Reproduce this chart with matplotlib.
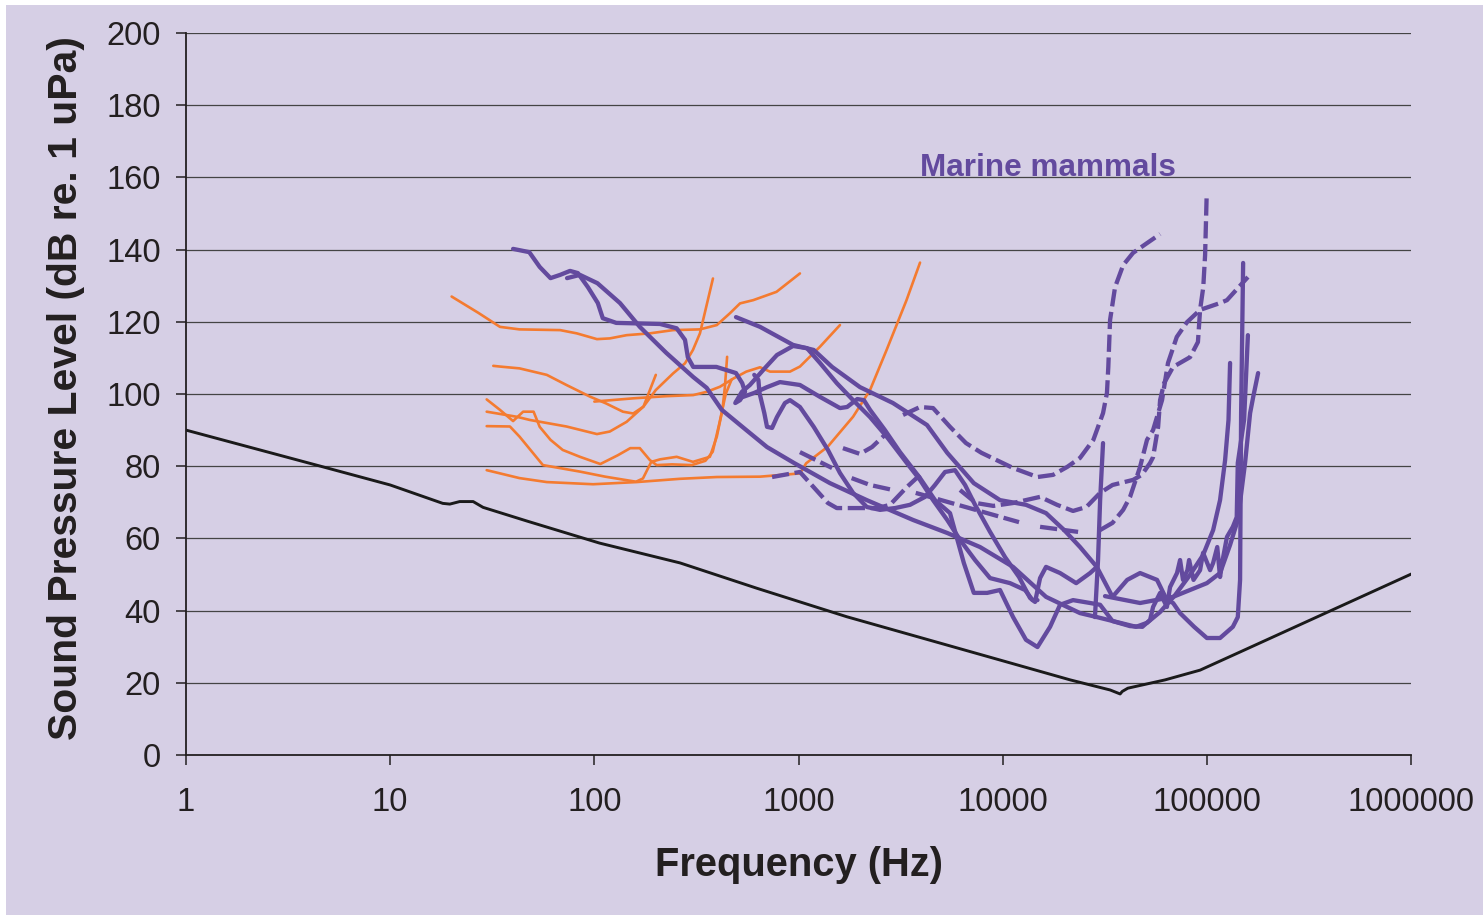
#!/usr/bin/env python
# -*- coding: utf-8 -*-
"""Hearing thresholds of fish and marine mammals against ambient noise."""
import matplotlib
matplotlib.use("Agg")
import matplotlib.pyplot as plt
from matplotlib.patches import Rectangle
from matplotlib.ticker import NullLocator

BG = "#d6cfe5"
PURPLE = "#634a9e"
ORANGE = "#f47b30"

# ambient noise floor (Hz, dB)
noise_f = [1, 4.7, 10, 18.1, 19.6, 21.9, 25.5, 28.5, 46.8, 106, 263, 624, 1722,
           9700, 21400, 33600, 37600, 38500, 41000, 62400, 92600, 145000, 286000, 1000000]
noise_db = [90, 79.8, 74.8, 69.7, 69.5, 70.2, 70.2, 68.6, 64.8, 58.7, 53.2, 46.2, 38.3,
            26.3, 20.8, 18.0, 16.9, 17.6, 18.5, 20.8, 23.5, 28.5, 36.1, 50.1]

# fish audiograms (Hz, dB)
fish = [
    ([20, 27, 34.5, 43, 68, 82, 103, 119, 144, 187, 243, 329, 398, 462, 517, 600, 780, 1016],
     [127, 122.5, 118.6, 117.9, 117.7, 116.8, 115.2, 115.4, 116.3, 116.8, 117.7, 117.9,
      119.1, 122.4, 125.1, 126, 128.3, 133.4]),
    ([32, 34.5, 43, 58.5, 73, 95, 114, 138, 155, 174, 200],
     [107.8, 107.6, 107.1, 105.3, 102.5, 99.3, 97.4, 95.1, 94.6, 96.5, 105.3]),
    ([100, 155, 225, 305, 355, 412, 480, 555, 648, 725, 908, 1016, 1274, 1596],
     [97.9, 98.8, 99.4, 99.7, 100.6, 102, 104.3, 106.2, 107.4, 106.2, 106.2, 107.6, 113.1, 119.1]),
    ([29.7, 34.5, 40, 44.8, 50.4, 54, 61, 70, 85, 107, 130, 150, 167, 187, 202, 240, 300,
      350, 380, 410, 440, 470],
     [98.5, 95.6, 92.5, 95.1, 95.1, 90.9, 87.3, 84.5, 82.6, 80.6, 83, 85, 85, 81.7, 80.3,
      80.5, 80.3, 81.5, 84, 92, 100, 104]),
    ([29.7, 41.6, 48.4, 73, 103, 119, 144, 174, 200, 243, 278, 304, 329, 381],
     [95.1, 93.7, 92.8, 91, 88.9, 89.6, 92.3, 96.5, 101.1, 105.7, 108.5, 112.2, 116.8, 132]),
    ([29.7, 38.6, 43, 56, 85, 113, 160, 173, 190, 210, 253, 304, 368, 398, 424, 436, 447],
     [91.1, 91, 88.2, 80.3, 78.5, 77.1, 75.7, 76.6, 81.2, 81.9, 82.6, 81.2, 82.6, 88.2,
      95.6, 102, 110.3]),
    ([29.7, 43, 58.5, 98.6, 161, 262, 398, 648, 1016, 1090, 1390, 1850, 2240, 2700, 3380, 3937],
     [78.9, 76.7, 75.6, 75, 75.6, 76.5, 77, 77.1, 78, 80.8, 85.4, 93.7, 101.1, 112.2, 126, 136.4]),
]

# marine mammal audiograms, solid (Hz, dB)
mammals = [
    ([40, 48, 54, 61, 68, 76, 83, 93, 104, 110, 128, 210, 253, 278, 287, 305, 396, 494,
      530, 547, 517, 490, 528, 578, 685, 784, 940, 1100, 1274, 1540, 1850, 2240, 2710,
      3390, 3936, 4560, 5350, 6180, 7320, 8670, 10860, 12870, 14000, 14800],
     [140.2, 139.3, 135.2, 132.1, 133, 134.1, 133.5, 129.6, 125.2, 121, 119.7, 119.4,
      118.2, 115, 110.2, 107.5, 107.5, 105.8, 103, 100.6, 98.3, 97.5, 100.6, 102.5,
      107.2, 110.8, 113.3, 112.7, 108.6, 103, 98.3, 93.6, 88.1, 80.9, 76.2, 70.6, 65.1,
      59.6, 54, 49, 47.6, 45.7, 42.9, 42.9]),
    ([73.5, 85, 103.5, 133.5, 167, 225, 305, 355, 421, 555, 701, 950, 1426, 2160, 3640,
      5350, 7744, 11240, 16300, 23920, 28900, 45000, 50900, 59000, 69900, 82700, 95800,
      107300, 116000, 122800, 127600, 129900],
     [132.1, 133, 130.7, 125.2, 118.6, 111.4, 104.7, 101.7, 95.6, 90, 85.3, 80.9, 75.3,
      70.6, 65.1, 61.5, 57.6, 52.1, 43.8, 39.3, 38.2, 35.5, 36.6, 39.6, 44.3, 49.9, 55.4,
      62.3, 70.6, 81.7, 92.8, 108.6]),
    ([517, 607, 701, 811, 1016, 1274, 1596, 1730, 1940, 2090, 2240, 2650, 3140, 3936,
      4660, 5520, 6450, 7220, 8390, 9700, 11240, 13000, 14800, 17060, 19090, 22100,
      26800, 30000, 34500, 42000, 48300, 52700, 54500, 59000, 63700, 66000, 71400,
      73900, 76400, 80300, 81800, 86000, 92600, 95800, 103700, 107300, 112400, 116000,
      118700, 125400, 134000, 140000, 141700, 152100, 158800],
     [98.9, 100.3, 101.9, 103.3, 102.5, 99.2, 96.1, 96.4, 98.6, 98.3, 95.6, 90, 83.9,
      76.7, 70.6, 67, 53.2, 44.9, 44.9, 45.7, 38.2, 31.9, 29.9, 35.5, 41.6, 42.9, 42.1,
      41.6, 37.1, 35.7, 35.5, 37.4, 41, 44.9, 41, 46.5, 50.4, 54, 48.5, 51.2, 54, 48.5,
      51.2, 56, 51.2, 53.2, 57.6, 49.3, 53.2, 60.4, 63.2, 65.9, 80.9, 92.8, 116.3]),
    ([607, 636, 644, 680, 701, 742, 784, 858, 908, 1016, 1187, 1393, 1596, 1850, 2160,
      2507, 2970, 3516, 4164, 4660, 5218, 5840, 6540, 7320, 8670, 10270, 12020, 13610,
      14400, 15240, 16300, 19090, 22900, 26800, 28900],
     [105.3, 103.9, 100.3, 94.7, 90.9, 90.6, 93.6, 97.5, 98.3, 96.4, 90.9, 84.5, 78.1,
      72.6, 68.7, 67.9, 68.4, 69.3, 71.5, 74.8, 78.4, 78.9, 74.8, 69.3, 61.8, 54.8, 49.3,
      43.5, 42.4, 49, 52.1, 50.4, 47.6, 50.4, 52.1]),
    ([494, 648, 940, 1187, 1460, 2000, 2900, 4260, 5350, 7220, 9700, 13000, 16300, 20000,
      23920, 28900, 34500, 40700, 47070, 57000, 63700, 68300, 73900, 86600, 100000,
      116000, 134000, 141700, 145400, 147100, 150500],
     [121.3, 118.6, 113.6, 112.2, 107.5, 101.9, 97.5, 91.4, 83.7, 75.3, 70.6, 69.3, 67,
      62.3, 57.6, 52.1, 43.8, 48.5, 50.4, 48.5, 42.9, 42.1, 39.3, 35.5, 32.4, 32.4, 35.5,
      38.2, 48.5, 94.7, 136.3]),
    ([31700, 47070, 68300, 100000, 116000, 129900, 141700, 153800, 162800, 168600, 178200],
     [44, 42.1, 43.8, 47.6, 50.4, 58.2, 65.1, 80.9, 94.7, 99.2, 105.8]),
    ([31000, 30000, 29300, 28300],
     [86.4, 70.6, 54, 38.2]),
]

# marine mammal audiograms, dashed (Hz, dB)
mammals_dashed = [
    ([3250, 3936, 4560, 5520, 6610, 7870, 11240, 14800, 17650, 20700, 23920, 27800,
      31000, 32400, 32900, 33560, 35500, 38900, 43500, 50900, 59000],
     [94.2, 96.4, 96.1, 90.9, 86.4, 83.7, 79.5, 77, 77.6, 79.8, 82.3, 87.3, 94.7, 100.3,
      107.5, 120.5, 129.6, 135.7, 139.1, 141.8, 144.3]),
    ([6180, 7400, 9000, 11240, 15240, 18450, 22100, 25700, 29980, 34500, 43500, 48000,
      52700, 54500, 57700, 59000, 61700, 68300, 82700, 90400, 92600, 96000, 98000, 99700],
     [73.4, 69.8, 69, 69.8, 71.5, 69.3, 67.6, 68.7, 72.6, 74.8, 76.2, 77.6, 80.9, 82.5,
      90.9, 98.3, 103, 107.5, 110.2, 114.4, 123.3, 129.6, 138.5, 154.6]),
    ([29980, 34500, 38900, 42050, 47070, 50900, 54500, 60300, 64500, 71200, 79900, 92600,
      116000, 125400, 158800],
     [62.3, 64.3, 67.9, 71.5, 79.8, 87.3, 90, 98.3, 108.6, 115.8, 119.9, 123.3, 125.2,
      126, 132.4]),
    ([742, 1016, 1393, 1540, 2440, 2806, 3390, 3936],
     [77, 78.4, 69.8, 68.4, 68.4, 69.3, 74.2, 77.6]),
    ([1016, 1460], [83.9, 79.5]),
    ([1650, 2000, 2290, 2710], [85, 83.4, 85.3, 89.2]),
    ([1820, 2240, 2900], [76.7, 74.8, 73.4]),
    ([3750, 12020], [72.6, 64.5]),
    ([15240, 23400], [63.2, 61.8]),
]

decades = [1, 10, 100, 1000, 10000, 100000, 1000000]
y_ticks = list(range(0, 201, 20))


def main():
    """Draw the chart."""
    plt.rcParams["font.family"] = ["Liberation Sans", "DejaVu Sans"]
    fig = plt.figure(figsize=(14.83, 9.15), dpi=100, facecolor=BG)

    # thin white edge along the left and top of the panel
    fig.patches.append(Rectangle((0, 0), 6 / 1483, 1, transform=fig.transFigure,
                                 facecolor="white", edgecolor="none", zorder=0))
    fig.patches.append(Rectangle((0, 1 - 5 / 915), 1, 5 / 915, transform=fig.transFigure,
                                 facecolor="white", edgecolor="none", zorder=0))

    ax = fig.add_axes([0.1254, 0.1749, 0.8261, 0.7890])
    ax.set_facecolor(BG)

    ax.set_xscale("log")
    ax.set_xlim(1, 1000000)
    ax.set_ylim(0, 200)

    for y in y_ticks[1:]:
        ax.axhline(y, color="#444444", lw=0.9, zorder=1)

    ax.plot(noise_f, noise_db, color="#1a1a1a", lw=2.1, zorder=2)

    for f, db in fish:
        ax.plot(f, db, color=ORANGE, lw=1.9, zorder=3, solid_capstyle="round",
                solid_joinstyle="round")
    for f, db in mammals:
        ax.plot(f, db, color=PURPLE, lw=3.1, zorder=4, solid_capstyle="round",
                solid_joinstyle="round")
    for f, db in mammals_dashed:
        ax.plot(f, db, color=PURPLE, lw=3.1, zorder=4, linestyle=(0, (4, 1.3)),
                dash_capstyle="butt")

    ax.text(3936, 160.3, "Marine mammals", color=PURPLE, fontsize=22.7,
            fontweight="bold", va="baseline", ha="left")

    ax.xaxis.set_minor_locator(NullLocator())
    ax.set_xticks(decades)
    ax.set_xticklabels([str(d) for d in decades])
    ax.set_yticks(y_ticks)
    ax.tick_params(axis="both", direction="out", length=7, width=1.1,
                   labelsize=23.5, labelcolor="#231f20", color="#231f20")
    ax.tick_params(axis="x", pad=16)
    ax.tick_params(axis="y", pad=11)

    for side in ("top", "right"):
        ax.spines[side].set_visible(False)
    for side in ("left", "bottom"):
        ax.spines[side].set_linewidth(1.3)
        ax.spines[side].set_color("#231f20")

    fig.text(0.5388, 0.0546, "Frequency (Hz)", fontsize=28.7, fontweight="bold",
             ha="center", va="center", color="#231f20")
    fig.text(0.0445, 0.576, "Sound Pressure Level (dB re. 1 uPa)", fontsize=29.4,
             fontweight="bold", ha="center", va="center", rotation=90, color="#231f20")

    fig.savefig("out.png", dpi=100, facecolor=BG)


if __name__ == "__main__":
    main()
